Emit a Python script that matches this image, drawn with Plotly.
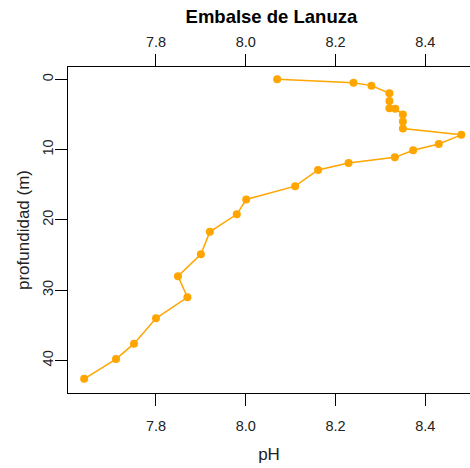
import plotly.graph_objects as go

# Data
ph = [8.07, 8.24, 8.28, 8.32, 8.32, 8.32, 8.333, 8.35, 8.35, 8.35, 8.48, 8.43,
      8.373, 8.332, 8.229, 8.161, 8.11, 8.001, 7.98, 7.92, 7.90, 7.849, 7.87,
      7.80, 7.751, 7.711, 7.64]
profundidad = [0, 0.5, 0.9, 2, 3.1, 4.1, 4.2, 5, 6, 7, 7.9, 9.2,
               10.1, 11.1, 11.9, 12.9, 15.2, 17.1, 19.2, 21.7, 24.9, 28.0, 31.0,
               34.0, 37.6, 39.8, 42.6]
x_ticks = [7.8, 8.0, 8.2, 8.4]
x_tick_labels = ["7.8", "8.0", "8.2", "8.4"]
y_ticks = [0, 10, 20, 30, 40]
y_tick_labels = ["0", "10", "20", "30", "40"]

FONT = "Liberation Sans, Arial, Helvetica, sans-serif"
x_range = [7.604, 8.4995]
y_range = [44.62, -1.75]

fig = go.Figure()
fig.add_trace(go.Scatter(
    x=ph, y=profundidad, mode="lines+markers",
    line=dict(color="#FFA500", width=1.5),
    marker=dict(color="#FFA500", size=8),
    cliponaxis=False,
    showlegend=False, hoverinfo="x+y",
))
fig.add_trace(go.Scatter(
    x=[ph[0]], y=[profundidad[0]], xaxis="x2", mode="markers",
    marker=dict(opacity=0), showlegend=False, hoverinfo="skip",
))

axis_common = dict(
    showgrid=False, zeroline=False, showline=True, linecolor="black",
    linewidth=1, ticks="outside", ticklen=12, tickcolor="black", tickwidth=1,
    automargin=False,
    tickfont=dict(family=FONT, size=14.5, color="#222"),
)

fig.update_layout(
    template="none",
    width=470, height=468,
    margin=dict(l=68, r=0, t=67, b=75, autoexpand=False),
    paper_bgcolor="white", plot_bgcolor="white",
    title=dict(text="<b>Embalse de Lanuza</b>", xref="paper", x=0.506,
               xanchor="center", y=0.965, yanchor="middle",
               font=dict(family=FONT, size=18.5, color="black")),
    xaxis=dict(range=x_range, tickvals=x_ticks, ticktext=x_tick_labels,
               side="bottom", ticklabelstandoff=8,
               title=dict(text="pH", standoff=14,
                          font=dict(family=FONT, size=17, color="#222")),
               **axis_common),
    xaxis2=dict(range=x_range, tickvals=x_ticks, ticktext=x_tick_labels,
                overlaying="x", side="top", ticklabelstandoff=1,
                **axis_common),
    yaxis=dict(range=y_range, tickvals=y_ticks, ticktext=y_tick_labels,
               tickangle=-90, ticklabelstandoff=-4,
               title=dict(text="profundidad (m)", standoff=6,
                          font=dict(family=FONT, size=17, color="#222")),
               **axis_common),
)

fig.write_html(
    "out.html",
    config={"displayModeBar": False},
    post_script="document.body.style.margin='0';document.body.style.overflow='hidden';",
)
